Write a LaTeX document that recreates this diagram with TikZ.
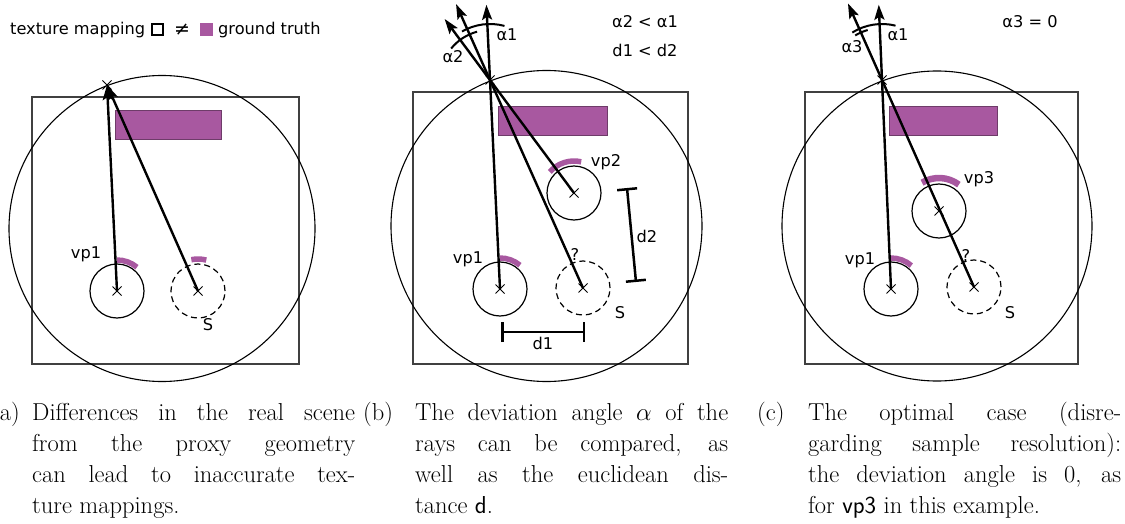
\documentclass[tikz,border=0pt]{standalone}
\usepackage{fontspec}
\newfontfamily\lblfont{DejaVu Sans}
\usetikzlibrary{arrows.meta,calc,shapes.misc}
\definecolor{gt}{RGB}{168,88,160}
\definecolor{gtedge}{RGB}{110,60,105}
\definecolor{scenegray}{RGB}{64,64,64}

\begin{document}
\begin{tikzpicture}[
  x=1pt,y=-1pt,
  lbl/.style={font=\lblfont\fontsize{16.2}{19}\selectfont,inner sep=0pt,anchor=base},
  scene/.style={draw=scenegray,line width=1.3pt},
  gtbox/.style={draw=gtedge,fill=gt,line width=0.8pt},
  reach/.style={draw,line width=1.1pt},
  vp/.style={draw,circle,minimum size=54pt,inner sep=0pt,line width=1.2pt},
  sampled/.style={vp,dash pattern=on 6pt off 4pt},
  hit/.style={draw,cross out,minimum size=8pt,inner sep=0pt,line width=1pt},
  ray/.style={line width=2.4pt,-{Stealth[length=15pt,width=10pt,inset=3pt]}},
  gtarc/.style={draw=gt,line width=5.5pt},
  anglearc/.style={line width=2pt},
  distbar/.style={line width=2.5pt,{Bar[width=20pt]}-{Bar[width=20pt]}},
  captag/.style={font=\fontsize{24.5}{31}\selectfont,inner sep=0pt},
  caption/.style={font=\fontsize{24.5}{31}\selectfont,inner sep=0pt,
                  anchor=base west,align=justify}
]
\useasboundingbox (0,0) rectangle (1125,524);

% legend
\node[lbl,anchor=base west] (legtm) at (10,35) {texture mapping};
\node[draw,line width=2pt,minimum size=11pt,inner sep=0pt] (legempty) at (157.5,30) {};
\node[lbl,font=\lblfont\fontsize{19}{20}\selectfont] (legneq) at (182,36) {≠};
\node[fill=gt,minimum size=13pt,inner sep=0pt] (legfull) at (206.5,30) {};
\node[lbl,anchor=base west] (leggt) at (218,35) {ground truth};

% panel (a) -- y points down, so angles are negated
\draw[scene] (32,97) rectangle (299,364);
\draw[gtbox] (115,110) rectangle (221,139);
\draw[reach] (162,228.5) circle[radius=153];
\node[vp] (a-vp1) at (117,291) {};
\node[sampled] (a-s) at (198,291) {};
\node[hit] (a-vp1x) at (a-vp1) {};
\node[hit] (a-sx) at (a-s) {};
\coordinate (a-hit) at (107,85);
\node[hit] (a-hitx) at (a-hit) {};
\draw[gtarc] ($(a-vp1)+(-50:31)$) arc[start angle=-50,end angle=-90,radius=31];
\draw[gtarc] ($(a-s)+(-75:32)$) arc[start angle=-75,end angle=-102,radius=32];
\draw[ray] (a-vp1.center) -- (a-hit);
\draw[ray] (a-s.center) -- (a-hit);
\node[lbl] (a-vp1l) at (86,258) {vp1};
\node[lbl] (a-sl) at (208,330) {S};

% panel (b)
\draw[scene] (413,92) rectangle (688,364);
\draw[gtbox] (498,106) rectangle (607,135);
\draw[reach] (546.5,226) circle[radius=155.5];
\node[vp] (b-vp1) at (500,289) {};
\node[vp] (b-vp2) at (574,193) {};
\node[sampled] (b-s) at (583,288) {};
\node[hit] (b-vp1x) at (b-vp1) {};
\node[hit] (b-vp2x) at (b-vp2) {};
\node[hit] (b-sx) at (b-s) {};
\coordinate (b-hit) at (490,80);
\node[hit] (b-hitx) at (b-hit) {};
\draw[gtarc] ($(b-vp1)+(-50:31)$) arc[start angle=-50,end angle=-90,radius=31];
\draw[gtarc] ($(b-vp2)+(-77:32)$) arc[start angle=-77,end angle=-139,radius=32];
\draw[ray] (b-vp1.center) -- ($(b-vp1.center)!1.36!(b-hit)$);
\draw[ray] (b-s.center) -- ($(b-s.center)!1.365!(b-hit)$);
\draw[ray] (b-vp2.center) -- ($(b-vp2.center)!1.54!(b-hit)$);
\draw[anglearc] ($(b-hit)+(-75:56)$) arc[start angle=-75,end angle=-120,radius=56];
\draw[anglearc] ($(b-hit)+(-105:50)$) arc[start angle=-105,end angle=-141,radius=50];
\coordinate (b-d1a) at (501,332);
\coordinate (b-d1b) at (585,332);
\coordinate (b-d2a) at (627,188);
\coordinate (b-d2b) at (636,282);
\draw[distbar] (b-d1a) -- (b-d1b);
\draw[distbar] (b-d2a) -- (b-d2b);
\node[lbl] (b-vp1l) at (468,263) {vp1};
\node[lbl] (b-vp2l) at (606,167) {vp2};
\node[lbl] (b-q) at (575,260) {?};
\node[lbl] (b-sl) at (620,318) {S};
\node[lbl] (b-d1l) at (543,349) {d1};
\node[lbl] (b-d2l) at (647,242) {d2};
\node[lbl] (b-a1) at (507,41) {α1};
\node[lbl] (b-a2) at (453,63) {α2};
\node[lbl] (b-rel1) at (645,28) {α2 < α1};
\node[lbl] (b-rel2) at (645,57) {d1 < d2};

% panel (c)
\draw[scene] (805,92) rectangle (1078,364);
\draw[gtbox] (889,106) rectangle (997,135);
\draw[reach] (937,226) circle[radius=155];
\node[vp] (c-vp1) at (891,289) {};
\node[vp] (c-vp3) at (939,211) {};
\node[sampled] (c-s) at (974,287) {};
\node[hit] (c-vp1x) at (c-vp1) {};
\node[hit] (c-vp3x) at (c-vp3) {};
\node[hit] (c-sx) at (c-s) {};
\coordinate (c-hit) at (882,80);
\node[hit] (c-hitx) at (c-hit) {};
\draw[gtarc] ($(c-vp1)+(-49:31)$) arc[start angle=-49,end angle=-90,radius=31];
\draw[gtarc,line width=6.5pt] ($(c-vp3)+(-53:33)$) arc[start angle=-53,end angle=-121,radius=33];
\draw[ray] (c-vp1.center) -- ($(c-vp1.center)!1.36!(c-hit)$);
\draw[ray] (c-s.center) -- ($(c-s.center)!1.37!(c-hit)$);
\draw[anglearc] ($(c-hit)+(-76:56)$) arc[start angle=-76,end angle=-122,radius=56];
\draw[anglearc] ($(c-hit)+(-106:52)$) arc[start angle=-106,end angle=-121,radius=52];
\node[lbl] (c-vp1l) at (860,264) {vp1};
\node[lbl] (c-vp3l) at (979,184) {vp3};
\node[lbl] (c-q) at (966,261) {?};
\node[lbl] (c-sl) at (1010,318) {S};
\node[lbl] (c-a1) at (898,41) {α1};
\node[lbl] (c-a3) at (852,53) {α3};
\node[lbl] (c-rel) at (1030,28) {α3 = 0};

% captions
\node[captag,anchor=base east] (capa-tag) at (20,420) {(a)};
\node[caption,text width=323pt] (capa) at (32,420)
 {Differences in the real scene\linebreak from the proxy geometry\linebreak
  can lead to inaccurate tex-\linebreak ture mappings.};
\node[captag,anchor=base west] (capb-tag) at (363,420) {(b)};
\node[caption,text width=313pt] (capb) at (415,420)
 {The deviation angle $\alpha$ of the\linebreak rays can be compared, as\linebreak
  well as the euclidean dis-\linebreak tance \textsf{d}.};
\node[captag,anchor=base west] (capc-tag) at (757,420) {(c)};
\node[caption,text width=313pt] (capc) at (808,420)
 {The optimal case (disre-\linebreak garding sample resolution):\linebreak
  the deviation angle is 0, as\linebreak for \textsf{vp3} in this example.};
\end{tikzpicture}
\end{document}
